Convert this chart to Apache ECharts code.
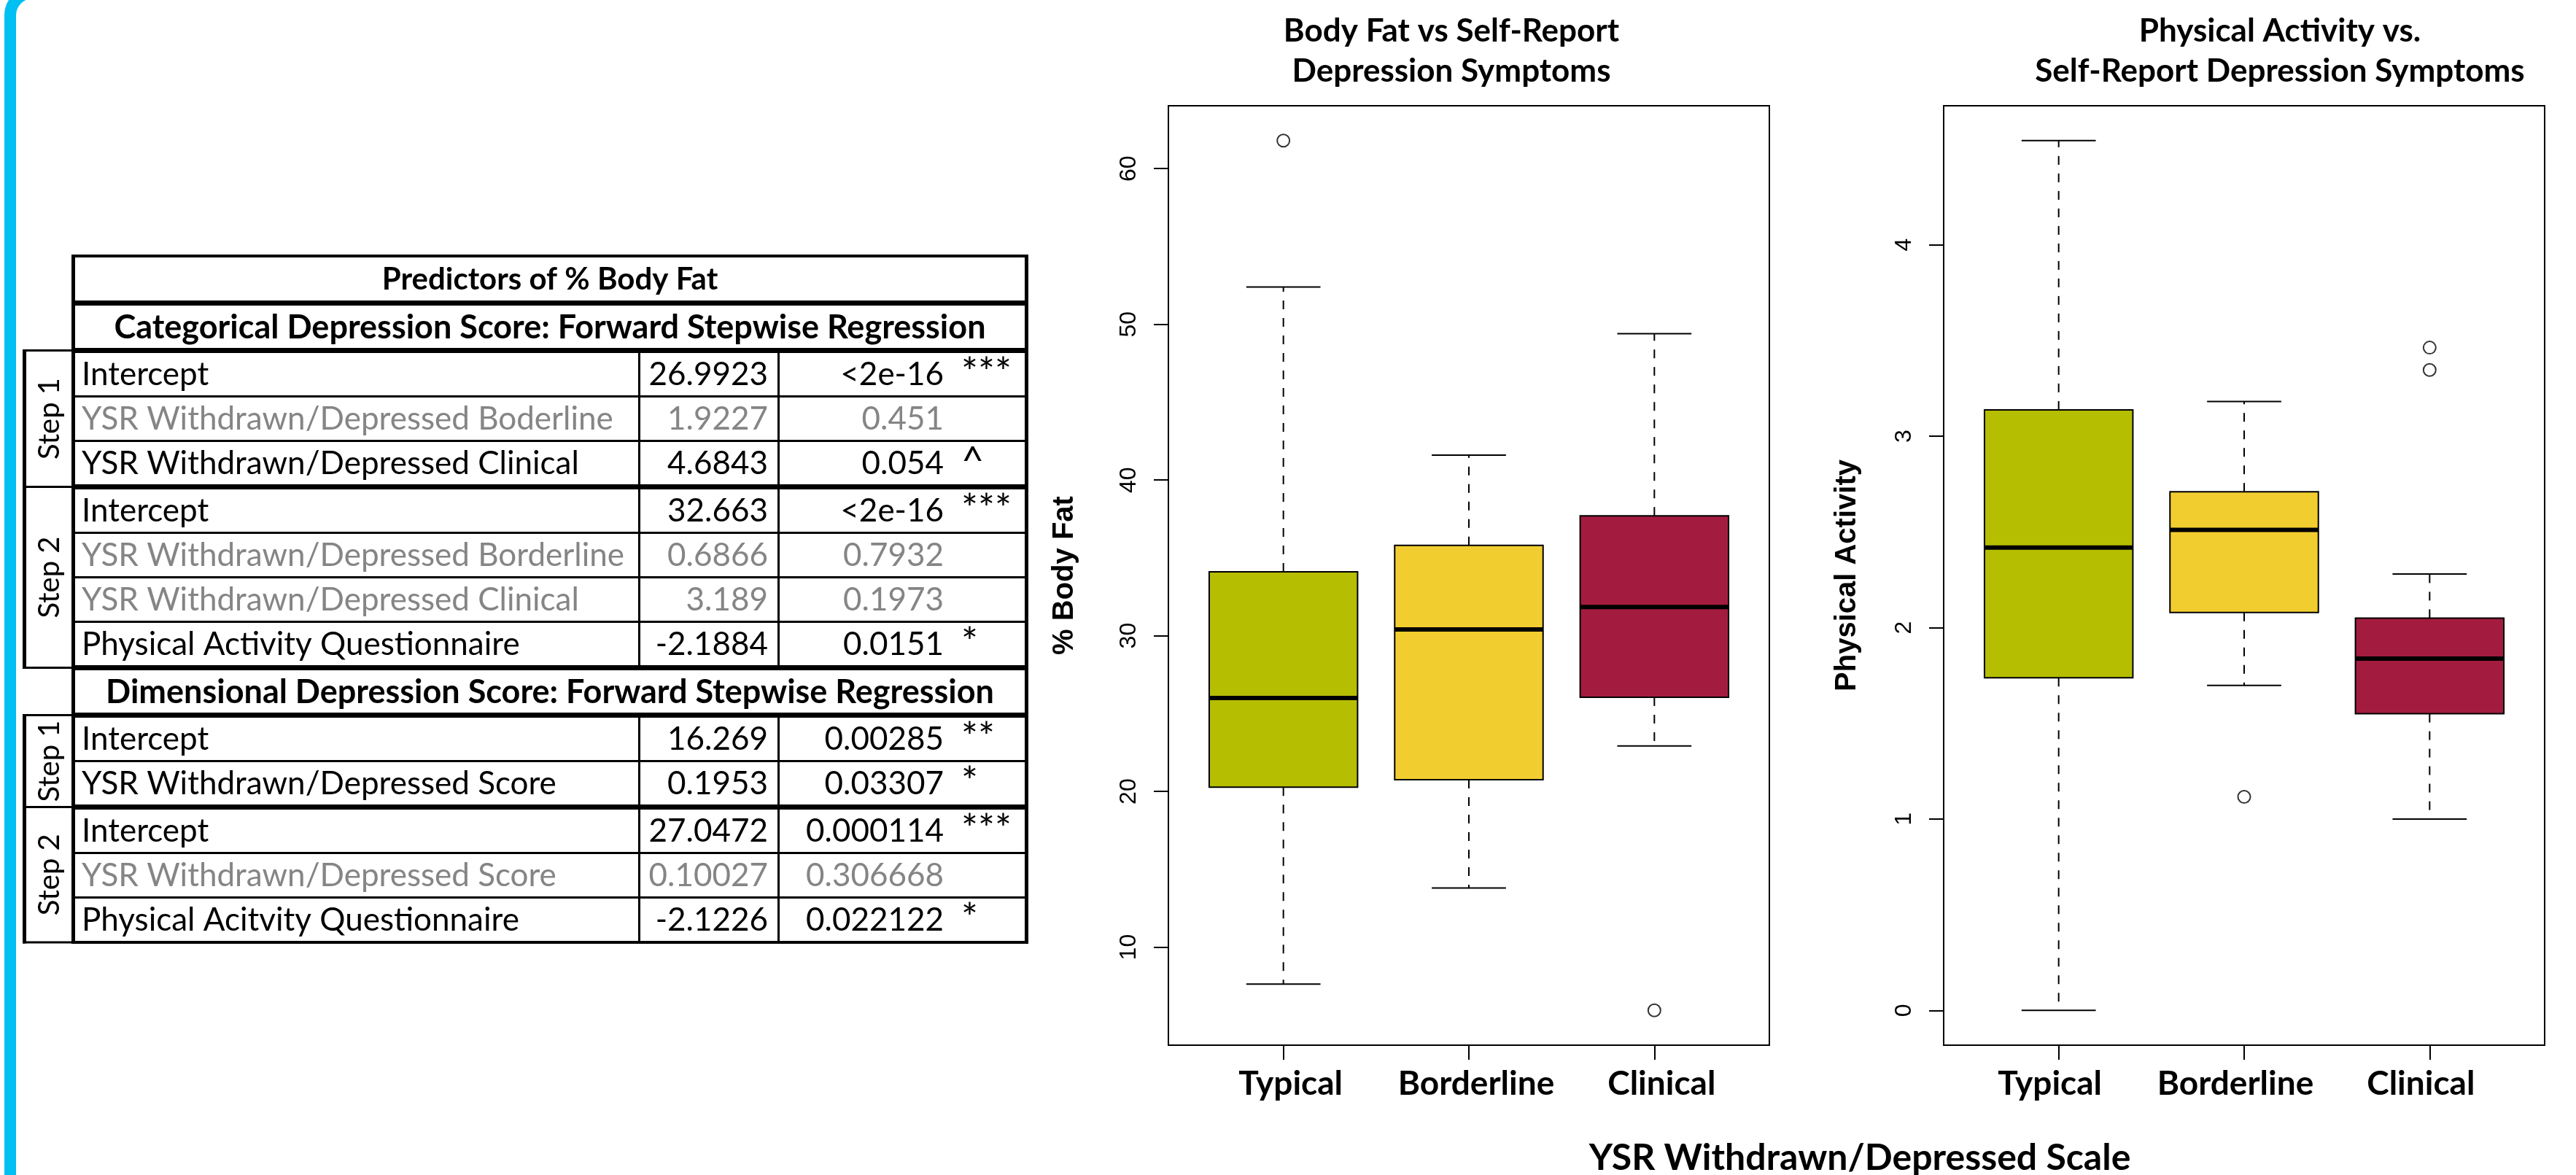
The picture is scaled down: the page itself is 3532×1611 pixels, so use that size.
<!DOCTYPE html>
<html><head><meta charset="utf-8">
<script src="https://cdn.jsdelivr.net/npm/echarts@6/dist/echarts.min.js"></script>
<style>html,body{margin:0;padding:0;background:#fff}#c{width:3532px;height:1611px}</style>
</head><body><div id="c"></div>
<script>
// ---------------- DATA ----------------
const categories = ['Typical', 'Borderline', 'Clinical'];
// [lower whisker, Q1, median, Q3, upper whisker]
const bodyFatStats = [
  [7.63, 20.28, 26.0, 34.1, 52.39],
  [13.8, 20.75, 30.4, 35.8, 41.6],
  [22.92, 26.05, 31.85, 37.7, 49.4]
];
const bodyFatOutliers = [['Typical', 61.8], ['Clinical', 5.94]];
const activityStats = [
  [0.0, 1.738, 2.418, 3.138, 4.545],
  [1.698, 2.079, 2.511, 2.71, 3.181],
  [1.0, 1.55, 1.838, 2.05, 2.28]
];
const activityOutliers = [['Borderline', 1.116], ['Clinical', 3.463], ['Clinical', 3.346]];
const bodyFatTicks = [10, 20, 30, 40, 50, 60];
const activityTicks = [0, 1, 2, 3, 4];
const boxColors = ['#B5BE00', '#F2CD30', '#A31C40'];
const chartTitles1 = ['Body Fat vs Self-Report', 'Depression Symptoms'];
const chartTitles2 = ['Physical Activity vs.', 'Self-Report Depression Symptoms'];
const yName1 = '% Body Fat';
const yName2 = 'Physical Activity';
const xName = 'YSR Withdrawn/Depressed Scale';

// table
const tableTitle = 'Predictors of % Body Fat';
const catHeader = 'Categorical Depression Score: Forward Stepwise Regression';
const dimHeader = 'Dimensional Depression Score: Forward Stepwise Regression';
const catS1Terms = ['Intercept', 'YSR Withdrawn/Depressed Boderline', 'YSR Withdrawn/Depressed Clinical'];
const catS1Est = ['26.9923', '1.9227', '4.6843'];
const catS1P = ['<2e-16', '0.451', '0.054'];
const catS1Sig = ['***', '', '^'];
const catS1Gray = [false, true, false];
const catS2Terms = ['Intercept', 'YSR Withdrawn/Depressed Borderline', 'YSR Withdrawn/Depressed Clinical', 'Physical Activity Questionnaire'];
const catS2Est = ['32.663', '0.6866', '3.189', '-2.1884'];
const catS2P = ['<2e-16', '0.7932', '0.1973', '0.0151'];
const catS2Sig = ['***', '', '', '*'];
const catS2Gray = [false, true, true, false];
const dimS1Terms = ['Intercept', 'YSR Withdrawn/Depressed Score'];
const dimS1Est = ['16.269', '0.1953'];
const dimS1P = ['0.00285', '0.03307'];
const dimS1Sig = ['**', '*'];
const dimS1Gray = [false, false];
const dimS2Terms = ['Intercept', 'YSR Withdrawn/Depressed Score', 'Physical Acitvity Questionnaire'];
const dimS2Est = ['27.0472', '0.10027', '-2.1226'];
const dimS2P = ['0.000114', '0.306668', '0.022122'];
const dimS2Sig = ['***', '', '*'];
const dimS2Gray = [false, true, false];
const stepLabels = ['Step 1', 'Step 2'];

// ---------------- LAYOUT ----------------
const CAL = 'Lato';
const ARIAL = '"Liberation Sans", Arial';
const GRAY = '#858585';
const G = [];

// cyan frame
G.push({type: 'rect', silent: true, z: 0,
  shape: {x: 14, y: -10, width: 8000, height: 4000, r: 31},
  style: {fill: 'none', stroke: '#00BFF3', lineWidth: 16}});

function box(x, y, w, h) {
  G.push({type: 'rect', silent: true, z: 10, shape: {x, y, width: w, height: h}, style: {fill: '#000'}});
}
function text(s, x, y, o) {
  G.push({type: 'text', silent: true, z: 11, x, y, scaleX: o.sx || 1, rotation: o.rot || 0,
    style: {text: s, fill: o.color || '#000', font: (o.bold ? 'bold ' : '') + o.size + 'px ' + (o.family || CAL),
      align: o.align || 'left', verticalAlign: 'middle'}});
}

const TL = 100, C1 = 876, C2 = 1067, TR = 1408, SL = 32;
const ROWH = 58, THIN = 3, THICK = 7, FS = 44, HFS = 45;
const MIDX = (TL + TR) / 2;
let y = 349;
box(TL, y, TR - TL, 4); y += 4;
text(tableTitle, MIDX, y + 30, {bold: true, size: 42, align: 'center'});
y += 59;
const blocks = [
  {header: catHeader},
  {label: stepLabels[0], terms: catS1Terms, est: catS1Est, p: catS1P, sig: catS1Sig, gray: catS1Gray},
  {label: stepLabels[1], terms: catS2Terms, est: catS2Est, p: catS2P, sig: catS2Sig, gray: catS2Gray},
  {header: dimHeader},
  {label: stepLabels[0], terms: dimS1Terms, est: dimS1Est, p: dimS1P, sig: dimS1Sig, gray: dimS1Gray},
  {label: stepLabels[1], terms: dimS2Terms, est: dimS2Est, p: dimS2P, sig: dimS2Sig, gray: dimS2Gray}
];
const stepBoxes = [];
blocks.forEach((b, bi) => {
  box(TL, y, TR - TL, THICK);
  const lineMid = y + THICK / 2;
  y += THICK;
  if (b.header) {
    text(b.header, MIDX, y + ROWH / 2 + 1, {bold: true, size: HFS, align: 'center'});
    y += ROWH;
    return;
  }
  const top = y;
  b.terms.forEach((t, i) => {
    if (i > 0) { box(TL, y, TR - TL, THIN); y += THIN; }
    const cy = y + ROWH / 2 + 1;
    const col = b.gray[i] ? GRAY : '#000';
    text(t, 112, cy, {size: FS, color: col});
    text(b.est[i], 1053, cy, {size: FS, color: col, align: 'right'});
    text(b.p[i], 1294, cy, {size: FS, color: col, align: 'right'});
    if (b.sig[i]) text(b.sig[i], 1318, cy - 2, {size: 54, color: col});
    y += ROWH;
  });
  box(C1 - 1, top, 3, y - top);
  box(C2 - 1, top, 3, y - top);
  stepBoxes.push({top: lineMid, bottom: y + (bi === blocks.length - 1 ? 2 : THICK / 2), label: b.label});
});
box(TL, y, TR - TL, 4); y += 4;
// main left / right borders
box(TL - 2, 349, 5, y - 349);
box(TR - 3, 349, 5, y - 349);
// step column
stepBoxes.forEach(s => {
  box(SL - 1, s.top - 1.5, TL - SL, THIN);
  box(SL - 1, s.bottom - 1.5, TL - SL, THIN);
  box(SL - 1, s.top - 1.5, 5, s.bottom - s.top + 3);
  text(s.label, 68, (s.top + s.bottom) / 2, {size: 40, align: 'center', rot: Math.PI / 2});
});

// chart titles and shared x name
chartTitles1.forEach((t, i) => text(t, 1990, 43 + i * 55, {bold: true, size: 44, align: 'center'}));
chartTitles2.forEach((t, i) => text(t, 3126, 43 + i * 55, {bold: true, size: 44, align: 'center'}));
text(xName, 2550, 1588, {bold: true, size: 50, align: 'center'});

// ---------------- CHART ----------------
function ext(stats, outs) {
  const vals = stats.flat().concat(outs.map(o => o[1]));
  const mn = Math.min(...vals), mx = Math.max(...vals), d = (mx - mn) * 0.04;
  return [mn - d, mx + d];
}
const ext1 = ext(bodyFatStats, bodyFatOutliers);
const ext2 = ext(activityStats, activityOutliers);

function renderBox(params, api) {
  const x = api.value(0);
  const lo = api.coord([x, api.value(1)]), q1 = api.coord([x, api.value(2)]),
        md = api.coord([x, api.value(3)]), q3 = api.coord([x, api.value(4)]),
        hi = api.coord([x, api.value(5)]);
  const hw = api.size([0.4, 0])[0], cw = api.size([0.2, 0])[0];
  const cx = lo[0];
  const color = boxColors[params.dataIndex];
  const ls = {stroke: '#000', lineWidth: 2};
  return {type: 'group', children: [
    {type: 'line', shape: {x1: cx, y1: q3[1], x2: cx, y2: hi[1]}, style: {stroke: '#000', lineWidth: 2, lineDash: [12, 12]}},
    {type: 'line', shape: {x1: cx, y1: q1[1], x2: cx, y2: lo[1]}, style: {stroke: '#000', lineWidth: 2, lineDash: [12, 12]}},
    {type: 'line', shape: {x1: cx - cw, y1: hi[1], x2: cx + cw, y2: hi[1]}, style: ls},
    {type: 'line', shape: {x1: cx - cw, y1: lo[1], x2: cx + cw, y2: lo[1]}, style: ls},
    {type: 'rect', shape: {x: cx - hw, y: q3[1], width: 2 * hw, height: q1[1] - q3[1]}, style: {fill: color, stroke: '#000', lineWidth: 2}},
    {type: 'line', shape: {x1: cx - hw, y1: md[1], x2: cx + hw, y2: md[1]}, style: {stroke: '#000', lineWidth: 6}}
  ]};
}

function xAxisCfg(gi, pad) {
  return {gridIndex: gi, type: 'value', min: 0.38, max: 3.62, position: 'bottom',
    axisLine: {show: false, onZero: false}, splitLine: {show: false},
    axisTick: {show: true, customValues: [1, 2, 3], length: 20, lineStyle: {color: '#000', width: 2}},
    axisLabel: {customValues: [1, 2, 3], formatter: v => categories[Math.round(v) - 1],
      fontFamily: CAL, fontWeight: 'bold', fontSize: 46, color: '#000', margin: 30, padding: pad}};
}
function yAxisCfg(gi, e, ticks, name, gap) {
  return {gridIndex: gi, type: 'value', min: e[0], max: e[1],
    axisLine: {show: false, onZero: false}, splitLine: {show: false},
    axisTick: {show: true, customValues: ticks, length: 20, lineStyle: {color: '#000', width: 2}},
    axisLabel: {customValues: ticks, rotate: 90, fontFamily: ARIAL, fontSize: 32, color: '#000', margin: 38},
    name: name, nameLocation: 'middle', nameRotate: 90, nameGap: gap,
    nameTextStyle: {fontFamily: ARIAL, fontWeight: 'bold', fontSize: 40, color: '#000'}};
}
const gridBase = {top: 145, height: 1288, show: true, borderColor: '#000', borderWidth: 2, backgroundColor: 'transparent'};

const option = {
  animation: false,
  backgroundColor: '#fff',
  grid: [Object.assign({left: 1602, width: 824}, gridBase), Object.assign({left: 2665, width: 824}, gridBase)],
  xAxis: [xAxisCfg(0, [0, 0, 0, 20]), xAxisCfg(1, [0, 24, 0, 0])],
  yAxis: [yAxisCfg(0, ext1, bodyFatTicks, yName1, 122), yAxisCfg(1, ext2, activityTicks, yName2, 112)],
  series: [
    {type: 'custom', xAxisIndex: 0, yAxisIndex: 0, renderItem: renderBox, encode: {x: 0, y: [1, 2, 3, 4, 5]},
      data: bodyFatStats.map((s, i) => [i + 1].concat(s)), z: 3},
    {type: 'custom', xAxisIndex: 1, yAxisIndex: 1, renderItem: renderBox, encode: {x: 0, y: [1, 2, 3, 4, 5]},
      data: activityStats.map((s, i) => [i + 1].concat(s)), z: 3},
    {type: 'scatter', xAxisIndex: 0, yAxisIndex: 0, symbol: 'circle', symbolSize: 17,
      itemStyle: {color: 'rgba(0,0,0,0)', borderColor: '#000', borderWidth: 2},
      data: bodyFatOutliers.map(o => [categories.indexOf(o[0]) + 1, o[1]]), z: 4},
    {type: 'scatter', xAxisIndex: 1, yAxisIndex: 1, symbol: 'circle', symbolSize: 17,
      itemStyle: {color: 'rgba(0,0,0,0)', borderColor: '#000', borderWidth: 2},
      data: activityOutliers.map(o => [categories.indexOf(o[0]) + 1, o[1]]), z: 4}
  ],
  graphic: G
};
const chart = echarts.init(document.getElementById('c'), null, {renderer: 'canvas'});
chart.setOption(option);
</script>
</body></html>
